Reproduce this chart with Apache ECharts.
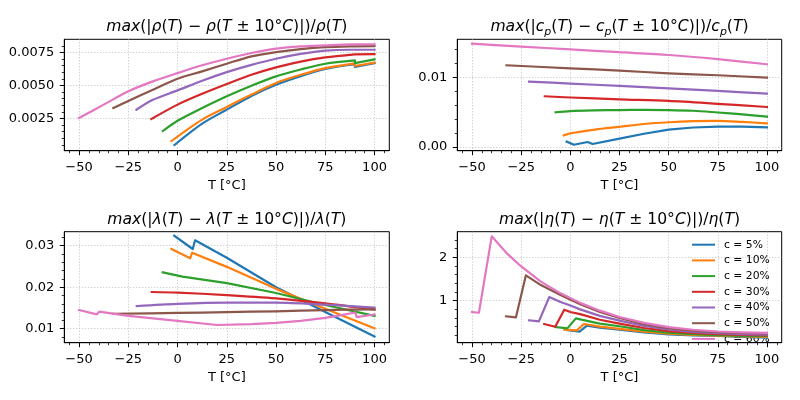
<!DOCTYPE html>
<html><head><meta charset="utf-8">
<script src="https://cdn.jsdelivr.net/npm/echarts@6/dist/echarts.min.js"></script>
<style>html,body{margin:0;padding:0;background:#fff}#c{width:800px;height:400px}</style>
</head><body><div id="c"></div>
<script>
// ---------- labels ----------
const seriesNames = ['c = 5%', 'c = 10%', 'c = 20%', 'c = 30%', 'c = 40%', 'c = 50%', 'c = 60%'];
const xAxisName = 'T [°C]';
const titleRho = '{i|max}(|{i|ρ}({i|T}) − {i|ρ}({i|T} ± 10°{i|C})|)/{i|ρ}({i|T})';
const titleCp = '{i|max}(|{i|c}{s|p}({i|T}) − {i|c}{s|p}({i|T} ± 10°{i|C})|)/{i|c}{s|p}({i|T})';
const titleLam = '{i|max}(|{i|λ}({i|T}) − {i|λ}({i|T} ± 10°{i|C})|)/{i|λ}({i|T})';
const titleEta = '{i|max}(|{i|η}({i|T}) − {i|η}({i|T} ± 10°{i|C})|)/{i|η}({i|T})';

// ---------- ticks ----------
const xMajorTicks = [-50, -25, 0, 25, 50, 75, 100];
const xMinorTicks = [-55, -45, -40, -35, -30, -20, -15, -10, -5, 5, 10, 15, 20, 30, 35, 40, 45, 55, 60, 65, 70, 80, 85, 90, 95, 105];
const rhoMajorTicks = [0.0025, 0.005, 0.0075];
const rhoMinorTicks = [0.0005, 0.001, 0.0015, 0.002, 0.003, 0.0035, 0.004, 0.0045, 0.0055, 0.006, 0.0065, 0.007, 0.008];
const cpMajorTicks = [0, 0.01];
const cpMinorTicks = [0.002, 0.004, 0.006, 0.008, 0.012, 0.014];
const lamMajorTicks = [0.01, 0.02, 0.03];
const lamMinorTicks = [0.008, 0.012, 0.014, 0.016, 0.018, 0.022, 0.024, 0.026, 0.028, 0.032];
const etaMajorTicks = [1, 2];
const etaMinorTicks = [0.2, 0.4, 0.6, 0.8, 1.2, 1.4, 1.6, 1.8, 2.2, 2.4];

// ---------- density ----------
const rho5  = [[-1.6,0.00048],[12.5,0.0021],[25,0.00316],[37.5,0.0042],[50,0.00505],[62.5,0.0057],[75,0.00624],[90,0.0066],[90,0.0064],[100,0.00669]];
const rho10 = [[-3.1,0.00078],[12.5,0.0024],[25,0.00336],[37.5,0.0043],[50,0.00518],[62.5,0.0058],[75,0.00631],[90,0.00667],[90,0.00647],[100,0.00672]];
const rho20 = [[-7.5,0.00154],[0,0.00232],[12.5,0.00328],[25,0.00417],[37.5,0.00497],[50,0.00568],[62.5,0.0062],[75,0.00664],[90,0.00689],[90,0.00669],[100,0.00697]];
const rho30 = [[-13.3,0.00245],[0,0.00354],[12.5,0.00436],[25,0.0051],[37.5,0.0058],[50,0.00636],[62.5,0.0068],[75,0.00712],[90,0.00735],[90,0.0073],[100,0.00737]];
const rho40 = [[-20.9,0.00316],[-12.5,0.00391],[0,0.00462],[12.5,0.00535],[25,0.006],[37.5,0.00655],[50,0.00702],[62.5,0.00738],[75,0.00763],[87.5,0.0077],[100,0.0077]];
const rho50 = [[-32.6,0.00328],[-25,0.00382],[-12.5,0.00467],[0,0.0055],[12.5,0.00606],[25,0.00664],[37.5,0.0072],[50,0.00752],[62.5,0.00775],[75,0.0079],[87.5,0.00796],[100,0.00798]];
const rho60 = [[-50,0.00253],[-37.5,0.00354],[-25,0.00455],[-12.5,0.0053],[0,0.00593],[12.5,0.00652],[25,0.00702],[37.5,0.00745],[50,0.00778],[62.5,0.00795],[75,0.00803],[87.5,0.0081],[100,0.00811]];

// ---------- heat capacity ----------
const cp5  = [[-1.9,0.00077],[1.8,0.00033],[8.8,0.00072],[11.3,0.00043],[25,0.0012],[37.5,0.0019],[50,0.0025],[62.5,0.0028],[75,0.00292],[87.5,0.00292],[100,0.00282]];
const cp10 = [[-3.4,0.00167],[0,0.00196],[12.5,0.0025],[25,0.0029],[37.5,0.0033],[50,0.00355],[62.5,0.0037],[75,0.00375],[87.5,0.0036],[100,0.0034]];
const cp20 = [[-7.5,0.00498],[0,0.00515],[12.5,0.00525],[25,0.0053],[37.5,0.00532],[50,0.0053],[62.5,0.0052],[75,0.00495],[87.5,0.00468],[100,0.00435]];
const cp30 = [[-13,0.00727],[0,0.0071],[25,0.00684],[50,0.00662],[75,0.0062],[100,0.00574]];
const cp40 = [[-21,0.00938],[0,0.0091],[25,0.00876],[50,0.0084],[75,0.00804],[100,0.00766]];
const cp50 = [[-32.5,0.01172],[0,0.01129],[25,0.01096],[50,0.01057],[75,0.01029],[100,0.00995]];
const cp60 = [[-50,0.01483],[-25,0.0144],[0,0.014],[25,0.0136],[50,0.0132],[75,0.0126],[100,0.01187]];

// ---------- thermal conductivity ----------
const lam5  = [[-1.7,0.0324],[7.7,0.0292],[8.9,0.0313],[25,0.0271],[50,0.0200],[75,0.0140],[100,0.0081]];
const lam10 = [[-3.1,0.0292],[6.4,0.02695],[7.4,0.0283],[25,0.0249],[50,0.0196],[75,0.0148],[100,0.0101]];
const lam20 = [[-7.5,0.02357],[2.5,0.02253],[3.3,0.02293],[25,0.0210],[50,0.0186],[75,0.0157],[100,0.0131]];
const lam30 = [[-13.1,0.01884],[0,0.0187],[25,0.0181],[50,0.0173],[75,0.0161],[100,0.0146]];
const lam40 = [[-20.7,0.01546],[0,0.0160],[25,0.0163],[50,0.0163],[75,0.0158],[100,0.0151]];
const lam50 = [[-32.6,0.01361],[0,0.0138],[25,0.0140],[50,0.0142],[75,0.0145],[100,0.01466]];
const lam60 = [[-50,0.0145],[-41,0.01345],[-39.8,0.0141],[-25,0.0131],[0,0.0119],[20,0.0109],[37.5,0.0111],[50,0.0114],[62.5,0.0119],[75,0.0126],[82.5,0.0132],[90.2,0.0139],[91,0.0128],[100,0.01345]];

// ---------- viscosity ----------
const eta5  = [[-1.6,0.323],[4.7,0.285],[8.4,0.423],[15,0.38],[25,0.33],[37.5,0.27],[50,0.225],[62.5,0.2],[75,0.185],[87.5,0.165],[100,0.15]];
const eta10 = [[-3.1,0.33],[3.3,0.315],[6.9,0.462],[15,0.40],[25,0.35],[37.5,0.285],[50,0.24],[62.5,0.21],[75,0.192],[87.5,0.175],[100,0.165]];
const eta20 = [[-7.5,0.39],[-1.5,0.362],[2.8,0.592],[5,0.57],[15,0.47],[25,0.41],[37.5,0.32],[50,0.265],[62.5,0.23],[75,0.208],[87.5,0.19],[100,0.18]];
const eta30 = [[-13.3,0.462],[-7.7,0.40],[-3.1,0.792],[0,0.74],[5,0.69],[15,0.56],[25,0.47],[37.5,0.37],[50,0.30],[62.5,0.255],[75,0.23],[87.5,0.21],[100,0.20]];
const eta40 = [[-21,0.546],[-16,0.523],[-10.7,1.085],[-5,0.97],[0,0.89],[5,0.80],[15,0.65],[25,0.54],[37.5,0.42],[50,0.335],[62.5,0.28],[75,0.25],[87.5,0.23],[100,0.215]];
const eta50 = [[-32.7,0.638],[-27.7,0.615],[-22.6,1.585],[-15,1.36],[-5,1.13],[5,0.92],[15,0.74],[25,0.60],[37.5,0.46],[50,0.365],[62.5,0.31],[75,0.275],[87.5,0.255],[100,0.245]];
const eta60 = [[-50,0.738],[-46.5,0.722],[-40,2.485],[-32,2.08],[-25,1.79],[-15,1.44],[-5,1.17],[5,0.95],[15,0.77],[25,0.625],[37.5,0.49],[50,0.39],[62.5,0.33],[75,0.29],[87.5,0.27],[100,0.26]];

// ---------- build ----------
const colors = ['#1f77b4', '#ff7f0e', '#2ca02c', '#d62728', '#9467bd', '#8c564b', '#e377c2'];
const FONT = 'DejaVu Sans';
const panels = [
  { data: [rho5, rho10, rho20, rho30, rho40, rho50, rho60], smooth: [1,1,1,1,1,1,1], major: rhoMajorTicks, minor: rhoMinorTicks, ymin: 0.00005, ymax: 0.00849, dec: 4,
    grid: { left: 64.3, top: 39.3, width: 325, height: 111.4 }, title: titleRho, tx: 226.8, ty: 27 },
  { data: [cp5, cp10, cp20, cp30, cp40, cp50, cp60], smooth: [0,1,1,1,1,1,1], major: cpMajorTicks, minor: cpMinorTicks, ymin: -0.00053, ymax: 0.01545, dec: 2,
    grid: { left: 457.3, top: 39.3, width: 324.4, height: 111.4 }, title: titleCp, tx: 619.5, ty: 27 },
  { data: [lam5, lam10, lam20, lam30, lam40, lam50, lam60], smooth: [0,0,0,1,1,1,0], major: lamMajorTicks, minor: lamMinorTicks, ymin: 0.00663, ymax: 0.03337, dec: 2,
    grid: { left: 64.3, top: 231.7, width: 325, height: 111 }, title: titleLam, tx: 226.8, ty: 219.5 },
  { data: [eta5, eta10, eta20, eta30, eta40, eta50, eta60], smooth: [0,0,0,0,0,0,0], major: etaMajorTicks, minor: etaMinorTicks, ymin: 0.031, ymax: 2.592, dec: 0,
    grid: { left: 457.3, top: 231.7, width: 324.4, height: 111 }, title: titleEta, tx: 619.5, ty: 219.5 }
];

const grids = [], xAxes = [], yAxes = [], series = [], graphics = [];
const fmtX = v => (v < 0 ? '\u2212' + (-v) : String(v));

panels.forEach((p, gi) => {
  grids.push(Object.assign({ show: true, borderColor: '#000', borderWidth: 1, backgroundColor: 'transparent', containLabel: false, outerBoundsMode: 'none' }, p.grid));
  xAxes.push({
    type: 'value', gridIndex: gi, min: -57.5, max: 107.5, position: 'bottom',
    name: xAxisName, nameLocation: 'middle', nameGap: 28,
    nameTextStyle: { fontSize: 13, fontFamily: FONT, color: '#000' },
    axisLine: { show: true, onZero: false, lineStyle: { color: '#000', width: 1 } },
    axisTick: { show: true, inside: false, length: 4.5, customValues: xMajorTicks, lineStyle: { color: '#000', width: 1 } },
    axisLabel: { show: true, customValues: xMajorTicks, margin: 10, fontSize: 13, fontFamily: FONT, color: '#000', formatter: fmtX },
    splitLine: { show: true, lineStyle: { color: '#b0b0b0', width: 0.8, type: [1, 2] } },
    minorTick: { show: false }
  });
  yAxes.push({
    type: 'value', gridIndex: gi, min: p.ymin, max: p.ymax, position: 'left',
    axisLine: { show: true, onZero: false, lineStyle: { color: '#000', width: 1 } },
    axisTick: { show: true, inside: false, length: 4.5, customValues: p.major, lineStyle: { color: '#000', width: 1 } },
    axisLabel: { show: true, customValues: p.major, margin: 10, fontSize: 13, fontFamily: FONT, color: '#000', formatter: v => Number(v).toFixed(p.dec) },
    splitLine: { show: true, lineStyle: { color: '#b0b0b0', width: 0.8, type: [1, 2] } }
  });
  p.data.forEach((d, k) => {
    series.push({
      type: 'line', name: seriesNames[k], xAxisIndex: gi, yAxisIndex: gi, data: d,
      smooth: p.smooth[k] ? 0.3 : false,
      showSymbol: false, symbol: 'none', clip: true, animation: false, z: gi === 3 ? 5 : 2,
      lineStyle: { width: 2.2, color: colors[k], cap: 'square', join: 'round' },
      itemStyle: { color: colors[k] }, emphasis: { disabled: true }
    });
  });
  graphics.push({
    type: 'text', x: p.tx, y: p.ty, silent: true,
    style: {
      text: p.title, align: 'center', verticalAlign: 'middle',
      fontSize: 15.6, fontFamily: FONT, fill: '#000', lineHeight: 22,
      rich: {
        i: { fontStyle: 'italic', fontSize: 15.6, fontFamily: FONT, lineHeight: 22 },
        s: { fontStyle: 'italic', fontSize: 11, fontFamily: FONT, lineHeight: 13, verticalAlign: 'bottom' }
      }
    }
  });
});
// minor tick axes
panels.forEach((p, gi) => {
  xAxes.push({
    type: 'value', gridIndex: gi, min: -57.5, max: 107.5, position: 'bottom',
    axisLine: { show: false, onZero: false }, axisLabel: { show: false }, splitLine: { show: false },
    axisTick: { show: true, inside: false, length: 2.5, customValues: xMinorTicks, lineStyle: { color: '#000', width: 0.8 } }
  });
  yAxes.push({
    type: 'value', gridIndex: gi, min: p.ymin, max: p.ymax, position: 'left',
    axisLine: { show: false, onZero: false }, axisLabel: { show: false }, splitLine: { show: false },
    axisTick: { show: true, inside: false, length: 2.5, customValues: p.minor, lineStyle: { color: '#000', width: 0.8 } }
  });
});

const chart = echarts.init(document.getElementById('c'), null, { renderer: 'canvas' });
chart.setOption({
  backgroundColor: '#fff',
  animation: false,
  color: colors,
  textStyle: { fontFamily: FONT },
  grid: grids, xAxis: xAxes, yAxis: yAxes, series: series, graphic: graphics,
  legend: {
    data: seriesNames, orient: 'vertical', left: 692, top: 238.7, padding: 0,
    itemWidth: 23, itemHeight: 2, itemGap: 3.7, icon: 'rect', selectedMode: false, z: 1,
    textStyle: { fontSize: 10.8, fontFamily: FONT, color: '#000', lineHeight: 12, padding: [0, 0, 0, 4] }
  }
});
</script>
</body></html>
